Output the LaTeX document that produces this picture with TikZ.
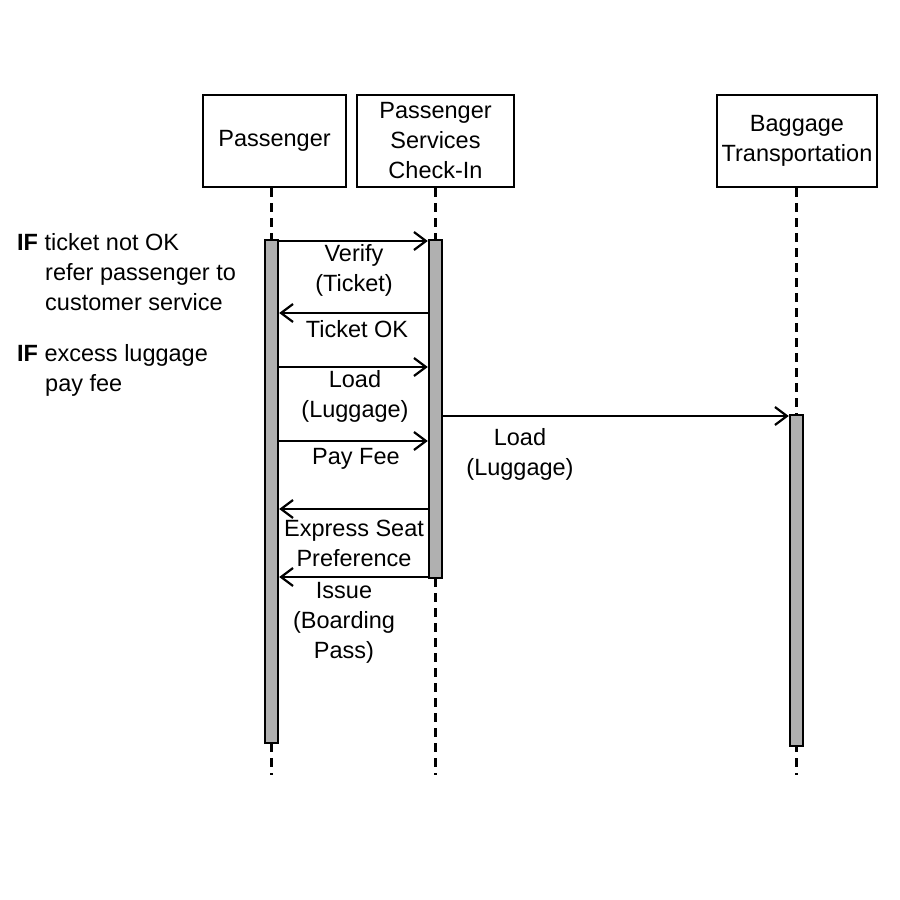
\documentclass[tikz,border=0pt]{standalone}
\usepackage{fontspec}
\setmainfont{Liberation Sans}
\usetikzlibrary{arrows.meta}
\definecolor{barfill}{HTML}{B0B0B0}
\begin{document}
\begin{tikzpicture}[x=1pt,y=-1pt,
  font=\fontsize{23.5}{30}\selectfont,
  actor/.style={draw,line width=2.4pt,minimum height=92pt,align=center,inner sep=0pt},
  actbar/.style={draw,line width=2.4pt,fill=barfill,minimum width=13pt,inner sep=0pt},
  life/.style={line width=2.2pt,dash pattern=on 9pt off 6pt},
  msg/.style={line width=2.2pt,-{Straight Barb[length=12pt,width=18pt,line width=2.2pt]}},
  lbl/.style={align=center,inner sep=0pt},
  note/.style={anchor=base west,inner sep=0pt}]
\useasboundingbox (0,0) rectangle (900,900);
\fill[white] (0,0) rectangle (900,900);
% actors
\node[actor,minimum width=143pt] (P) at (274.5,141) {Passenger};
\node[actor,minimum width=157pt] (S) at (435.5,141) {Passenger\\Services\\Check-In};
\node[actor,minimum width=160pt] (B) at (797,141) {Baggage\\Transportation};
% end of lifelines
\coordinate (lend) at (0,775);
% lifeline x positions
\coordinate (pc) at (271.5,0);
\coordinate (sc) at (435.5,0);
\coordinate (bc) at (796.5,0);
% lifelines
\draw[life] (pc |- P.south) -- (pc |- lend);
\draw[life] (sc |- S.south) -- (sc |- lend);
\draw[life] (bc |- B.south) -- (bc |- lend);
% activation bars
\node[actbar,minimum height=503pt] (pbar) at (271.5,491.5) {};
\node[actbar,minimum height=338pt] (sbar) at (435.5,409) {};
\node[actbar,minimum height=331pt] (bbar) at (796.5,580.5) {};
% message rows
\coordinate (m1) at (0,241);
\coordinate (m2) at (0,313);
\coordinate (m3) at (0,367);
\coordinate (m4) at (0,441);
\coordinate (m5) at (0,509);
\coordinate (m6) at (0,577);
\coordinate (m7) at (0,416);
\draw[msg] (pbar.east |- m1) -- (sbar.west |- m1);
\draw[msg] (sbar.west |- m2) -- (pbar.east |- m2);
\draw[msg] (pbar.east |- m3) -- (sbar.west |- m3);
\draw[msg] (pbar.east |- m4) -- (sbar.west |- m4);
\draw[msg] (sbar.west |- m5) -- (pbar.east |- m5);
\draw[msg] (sbar.west |- m6) -- (pbar.east |- m6);
\draw[msg] (sbar.east |- m7) -- (bbar.west |- m7);
% message labels
\node[lbl] (l1) at (354,270) {Verify\\(Ticket)};
\node[lbl] (l2) at (357,329) {Ticket OK};
\node[lbl] (l3) at (355,396) {Load\\(Luggage)};
\node[lbl] (l4) at (356,459) {Pay Fee};
\node[lbl] (l5) at (354,543) {Express Seat\\Preference};
\node[lbl] (l6) at (344,623) {Issue\\(Boarding\\Pass)};
\node[lbl] (l7) at (520,454) {Load\\(Luggage)};
% notes
\node[note] (n1) at (17,250) {\textbf{IF} ticket not OK};
\node[note] (n2) at (45,280) {refer passenger to};
\node[note] (n3) at (45,310) {customer service};
\node[note] (n4) at (17,361) {\textbf{IF} excess luggage};
\node[note] (n5) at (45,391) {pay fee};
\end{tikzpicture}
\end{document}
